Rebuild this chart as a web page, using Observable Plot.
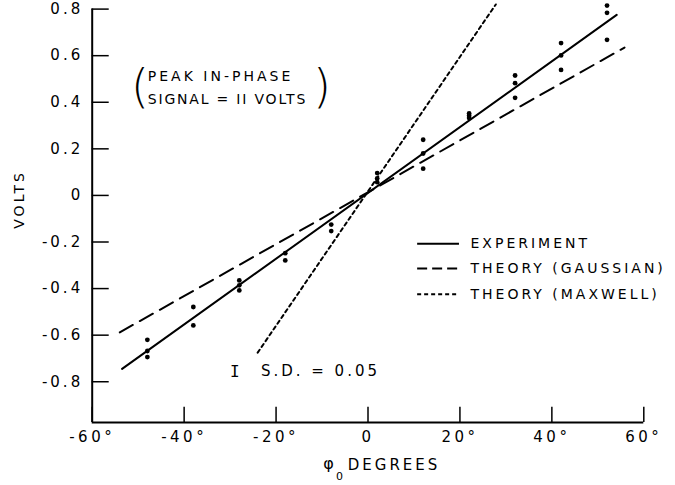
<!DOCTYPE html>
<html><head><meta charset="utf-8">
<script src="https://cdn.jsdelivr.net/npm/d3@7"></script>
<script src="https://cdn.jsdelivr.net/npm/@observablehq/plot@0.6"></script>
<style>
html,body{margin:0;padding:0;background:#fff;}
#chart svg text{letter-spacing:3px;}
</style></head><body><div id="chart"></div>
<script>
// ---- data ----
const xTicks = [-60, -40, -20, 0, 20, 40, 60];
const xTickLabels = ["-60°", "-40°", "-20°", "0", "20°", "40°", "60°"];
const yTicks = [0.8, 0.6, 0.4, 0.2, 0, -0.2, -0.4, -0.6, -0.8];
const yTickLabels = ["0.8", "0.6", "0.4", "0.2", "0", "-0.2", "-0.4", "-0.6", "-0.8"];

// measured points (phi0 degrees, volts)
const pointX = [-48,-48,-48, -38,-38, -28,-28,-28, -18,-18, -8,-8, 2,2,2, 12,12,12, 22,22,22, 32,32,32, 42,42,42, 52,52,52];
const pointY = [-0.62,-0.668,-0.694, -0.479,-0.558, -0.365,-0.386,-0.408, -0.248,-0.279, -0.125,-0.153, 0.096,0.073,0.057, 0.239,0.18,0.115, 0.352,0.342,0.332, 0.515,0.482,0.419, 0.654,0.601,0.539, 0.815,0.784,0.668];

// fitted / theory lines
const expX = [-53.5, 54.1];
const expY = [-0.745, 0.775];
const gaussX = [-54, 55.8];
const gaussY = [-0.588, 0.635];
const maxwellX = [-24, 27.8];
const maxwellY = [-0.675, 0.82];

const legendLabels = ["EXPERIMENT", "THEORY (GAUSSIAN)", "THEORY (MAXWELL)"];

// ---- layout ----
const yMin = -0.975, yMax = 0.8;
const legendY = [-0.207, -0.314, -0.424];
const legendDash = [null, "10,5", "4,3"];
const font = "DejaVu Sans";

const legendMarks = legendLabels.flatMap((lab, i) => [
  Plot.ruleY([legendY[i]], {x1: 10.8, x2: 19.9, stroke: "black", strokeWidth: 2, strokeDasharray: legendDash[i]}),
  Plot.text([lab], {x: 22.3, y: legendY[i], text: d => d, textAnchor: "start", fontSize: 14, fontFamily: font})
]);

const chart = Plot.plot({
  width: 675, height: 485,
  marginLeft: 91.7, marginRight: 31.7, marginTop: 8.6, marginBottom: 63,
  x: {domain: [-60, 60]},
  y: {domain: [yMin, yMax]},
  style: {fontFamily: font, background: "white", color: "black", overflow: "visible"},
  marks: [
    Plot.axisX(xTicks, {tickSize: 0, tickPadding: 9, tickFormat: d => xTickLabels[xTicks.indexOf(d)], fontSize: 15, label: null}),
    Plot.axisY(yTicks, {tickSize: 0, tickPadding: 9, tickFormat: d => yTickLabels[yTicks.indexOf(d)], fontSize: 15, label: null}),
    Plot.ruleX([-60], {stroke: "black", strokeWidth: 2}),
    Plot.ruleY([yMin], {stroke: "black", strokeWidth: 2}),
    Plot.ruleX(xTicks, {y1: yMin, y2: yMin + 0.066, stroke: "black", strokeWidth: 1.5}),
    Plot.ruleY(yTicks, {x1: -60, x2: -56.3, stroke: "black", strokeWidth: 1.5}),
    Plot.line(expX, {x: expX, y: expY, stroke: "black", strokeWidth: 2}),
    Plot.line(gaussX, {x: gaussX, y: gaussY, stroke: "black", strokeWidth: 2, strokeDasharray: "15,8"}),
    Plot.line(maxwellX, {x: maxwellX, y: maxwellY, stroke: "black", strokeWidth: 2, strokeDasharray: "3.5,3.5"}),
    Plot.dot(pointX, {x: pointX, y: pointY, r: 2.4, fill: "black", stroke: "none"}),
    ...legendMarks,
    // annotations
    Plot.text(["PEAK IN-PHASE"], {x: -47.9, y: 0.511, text: d => d, textAnchor: "start", fontSize: 14}),
    Plot.text(["SIGNAL = II VOLTS"], {x: -47.9, y: 0.412, text: d => d, textAnchor: "start", fontSize: 14}),
    Plot.text(["("], {x: -49.6, y: 0.463, text: d => d, fontSize: 46, fontWeight: 200}),
    Plot.text([")"], {x: -10.0, y: 0.463, text: d => d, fontSize: 46, fontWeight: 200}),
    Plot.text(["I"], {x: -29, y: -0.758, text: d => d, fontSize: 16, fontFamily: "DejaVu Sans Mono"}),
    Plot.text(["S.D. = 0.05"], {x: -23.3, y: -0.755, text: d => d, textAnchor: "start", fontSize: 15}),
    Plot.text(["VOLTS"], {x: -60, y: -0.017, dx: -72.7, text: d => d, rotate: -90, fontSize: 14}),
    Plot.text(["φ"], {x: -8.6, y: yMin, dy: 41, text: d => d, fontSize: 16}),
    Plot.text(["0"], {x: -6.2, y: yMin, dy: 54, text: d => d, fontSize: 11}),
    Plot.text(["DEGREES"], {x: -4.4, y: yMin, dy: 43, text: d => d, textAnchor: "start", fontSize: 15})
  ]
});
document.getElementById("chart").appendChild(chart);
const spacing = {"(": "0px", ")": "0px", "I": "0px", "φ": "0px", "0": "0px", "SIGNAL = II VOLTS": "1.8px"};
d3.select(chart).selectAll("text").each(function() {
  const t = this.textContent;
  if (t in spacing && !this.closest('g[aria-label="y-axis tick label"]') && !this.closest('g[aria-label="x-axis tick label"]')) {
    this.style.letterSpacing = spacing[t];
  }
});
d3.select(chart).selectAll('g[aria-label="x-axis tick label"] text').style("letter-spacing", "3.5px");
</script>
</body></html>
